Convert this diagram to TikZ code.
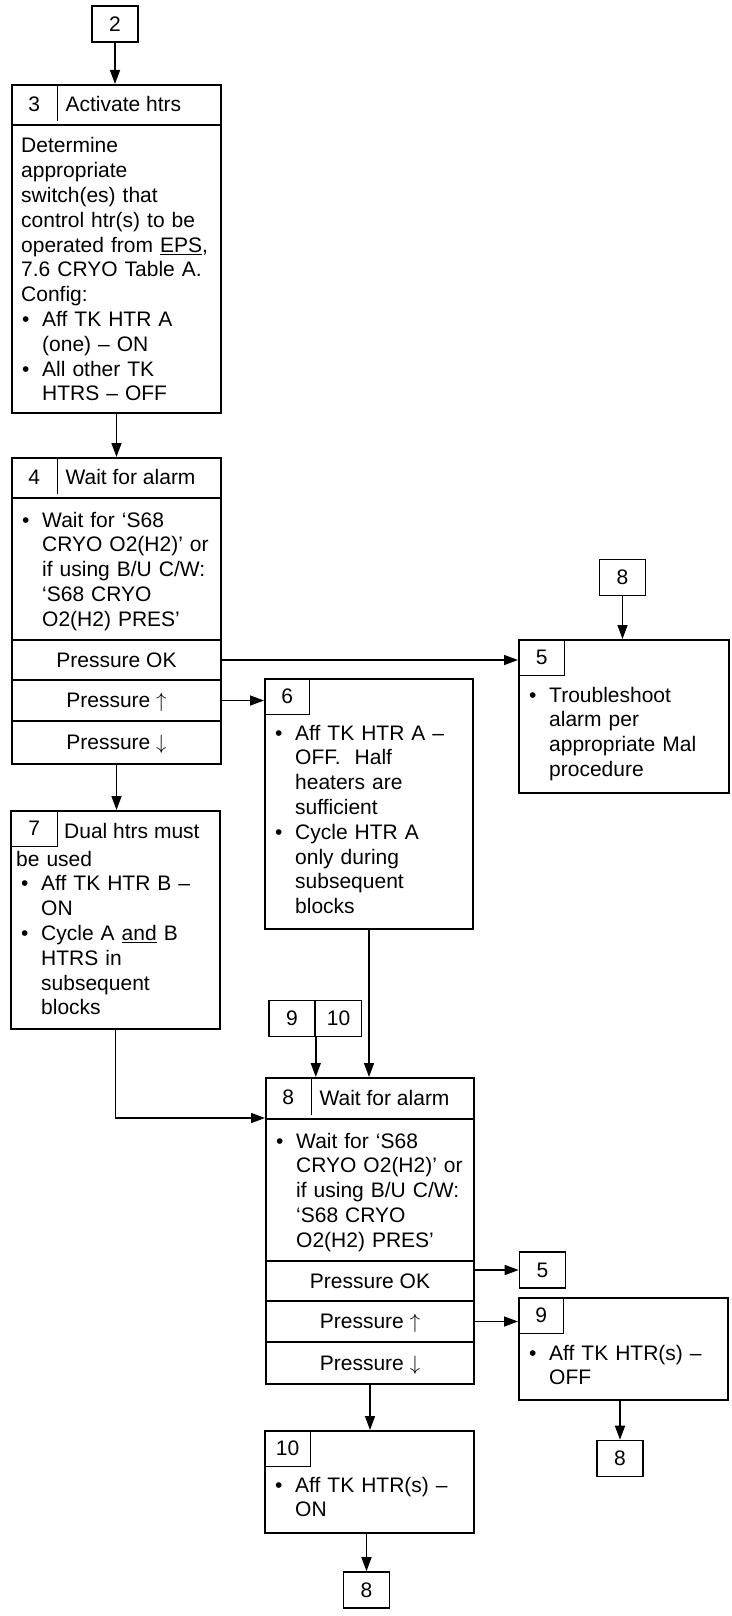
\documentclass[tikz,border=0pt]{standalone}
\usepackage{fontspec}
\setmainfont{Liberation Sans}
\usetikzlibrary{arrows.meta}
\newcommand{\flowfont}{\fontsize{21}{24.8}\selectfont}
\newcommand{\bul}{\makebox[21pt][l]{\hspace{1pt}\textbullet}}
\newcommand{\ind}{\hspace*{21pt}}
\tikzstyle{blockbox}=[draw, line width=2pt, inner sep=0pt, anchor=north west]
\tikzstyle{headcell}=[inner sep=0pt, anchor=north west, minimum width=46pt]
\tikzstyle{numcell}=[draw, line width=1.3pt, inner sep=0pt, anchor=north west, minimum height=36pt]
\tikzstyle{rowbox}=[draw, line width=2pt, inner sep=0pt, anchor=north west, text depth=0pt]
\tikzstyle{gotobox}=[draw, line width=1.6pt, inner sep=0pt, minimum width=46pt, minimum height=36pt]
\tikzstyle{bodytext}=[anchor=base west, inner sep=0pt, align=left, text width=210pt]
\tikzstyle{flowline}=[line width=1.5pt, -{Triangle[length=14pt, width=10pt]}]

\begin{document}
\begin{tikzpicture}[x=1pt, y=-1pt, font=\flowfont]
	\useasboundingbox (0,0) rectangle (731,1616);

	\node[gotobox] (g2) at (115,24) {2};

	\node[blockbox, minimum width=209pt, minimum height=40pt] (h3) at (11,84) {};
	\node[blockbox, minimum width=209pt, minimum height=288pt] (b3) at (11,124) {};
	\node[headcell, minimum height=40pt] (c3) at (11,84) {3};
	\draw[line width=1.3pt] (c3.north east) -- ([yshift=3pt]c3.south east);
	\node[anchor=west, inner sep=0pt] (t3) at ([xshift=8pt]c3.east) {Activate htrs};
	\node[bodytext] (x3) at (21,153) {Determine\\appropriate\\switch(es) that\\control htr(s) to be\\operated from \underline{EPS},\\7.6 CRYO Table A.\\Config:\\\bul Aff TK HTR A\\\ind (one) – ON\\\bul All other TK\\\ind HTRS – OFF};

	\node[blockbox, minimum width=209pt, minimum height=40pt] (h4) at (11,457) {};
	\node[blockbox, minimum width=209pt, minimum height=142pt] (b4) at (11,497) {};
	\node[headcell, minimum height=40pt] (c4) at (11,457) {4};
	\draw[line width=1.3pt] (c4.north east) -- ([yshift=3pt]c4.south east);
	\node[anchor=west, inner sep=0pt] (t4) at ([xshift=8pt]c4.east) {Wait for alarm};
	\node[bodytext] (x4) at (21,527) {\bul Wait for ‘S68\\\ind CRYO O2(H2)’ or\\\ind if using B/U C/W:\\\ind ‘S68 CRYO\\\ind O2(H2) PRES’};
	\node[rowbox, minimum width=209pt, minimum height=40pt] (ok4) at (11,639) {Pressure OK};
	\node[rowbox, minimum width=209pt, minimum height=41pt] (up4) at (11,679) {Pressure $\uparrow$};
	\node[rowbox, minimum width=209pt, minimum height=43pt] (dn4) at (11,720) {Pressure $\downarrow$};

	\node[gotobox] (g8a) at (622.5,577.5) {8};

	\node[blockbox, minimum width=210pt, minimum height=153pt] (b5) at (518,639) {};
	\node[numcell, minimum width=46pt] (c5) at (518,639) {5};
	\node[bodytext] (x5) at (528,702) {\bul Troubleshoot\\\ind alarm per\\\ind appropriate Mal\\\ind procedure};

	\node[blockbox, minimum width=208pt, minimum height=250pt] (b6) at (264,678) {};
	\node[numcell, minimum width=45pt] (c6) at (264,678) {6};
	\node[bodytext] (x6) at (274,740) {\bul Aff TK HTR A –\\\ind OFF.\ \ Half\\\ind heaters are\\\ind sufficient\\\bul Cycle HTR A\\\ind only during\\\ind subsequent\\\ind blocks};

	\node[blockbox, minimum width=209pt, minimum height=218pt] (b7) at (10,810) {};
	\node[numcell, minimum width=47pt] (c7) at (10,810) {7};
	\node[anchor=base west, inner sep=0pt] (t7) at (64,838) {Dual htrs must};
	\node[bodytext] (x7) at (20,866) {\hspace*{-4pt}be used\\\bul Aff TK HTR B –\\\ind ON\\\bul Cycle A \underline{and} B\\\ind HTRS in\\\ind subsequent\\\ind blocks};

	\node[gotobox] (g9) at (292,1018.5) {9};
	\node[gotobox] (g10) at (338.5,1018.5) {10};

	\node[blockbox, minimum width=208pt, minimum height=41pt] (h8) at (265,1077) {};
	\node[blockbox, minimum width=208pt, minimum height=142pt] (b8) at (265,1118) {};
	\node[headcell, minimum height=41pt] (c8) at (265,1077) {8};
	\draw[line width=1.3pt] (c8.north east) -- ([yshift=3pt]c8.south east);
	\node[anchor=west, inner sep=0pt] (t8) at ([xshift=8pt]c8.east) {Wait for alarm};
	\node[bodytext] (x8) at (275,1148) {\bul Wait for ‘S68\\\ind CRYO O2(H2)’ or\\\ind if using B/U C/W:\\\ind ‘S68 CRYO\\\ind O2(H2) PRES’};
	\node[rowbox, minimum width=208pt, minimum height=40pt] (ok8) at (265,1260) {Pressure OK};
	\node[rowbox, minimum width=208pt, minimum height=41pt] (up8) at (265,1300) {Pressure $\uparrow$};
	\node[rowbox, minimum width=208pt, minimum height=42pt] (dn8) at (265,1341) {Pressure $\downarrow$};

	\node[gotobox] (g5) at (542.5,1270) {5};

	\node[blockbox, minimum width=209pt, minimum height=102pt] (b9) at (518,1297) {};
	\node[numcell, minimum width=45pt] (c9) at (518,1297) {9};
	\node[bodytext] (x9) at (528,1360) {\bul Aff TK HTR(s) –\\\ind OFF};

	\node[gotobox] (g8b) at (620,1458.5) {8};

	\node[blockbox, minimum width=209pt, minimum height=102pt] (b10) at (264,1430) {};
	\node[numcell, minimum width=46pt] (c10) at (264,1430) {10};
	\node[bodytext] (x10) at (274,1492) {\bul Aff TK HTR(s) –\\\ind ON};

	\node[gotobox] (g8c) at (366.5,1590) {8};

	\draw[flowline] (g2.south) -- (g2.south |- h3.north);
	\draw[flowline] (b3.south) -- (b3.south |- h4.north);
	\draw[flowline] (ok4.east) -- (ok4.east -| b5.west);
	\draw[flowline] (up4.east) -- (up4.east -| b6.west);
	\draw[flowline] (g8a.south) -- (g8a.south |- b5.north);
	\draw[flowline] (dn4.south) -- (dn4.south |- b7.north);
	\draw[flowline] (b6.south) -- (b6.south |- h8.north);
	\draw[flowline] (g9.south east) -- (g9.south east |- h8.north);
	\draw[flowline] (b7.south) |- ([yshift=2pt]h8.south west);
	\draw[flowline] (g5.west -| ok8.east) -- (g5.west);
	\draw[flowline] (up8.east) -- (up8.east -| b9.west);
	\draw[flowline] (g8b.north |- b9.south) -- (g8b.north);
	\draw[flowline] (dn8.south) -- (dn8.south |- b10.north);
	\draw[flowline] (g8c.north |- b10.south) -- (g8c.north);
\end{tikzpicture}
\end{document}
